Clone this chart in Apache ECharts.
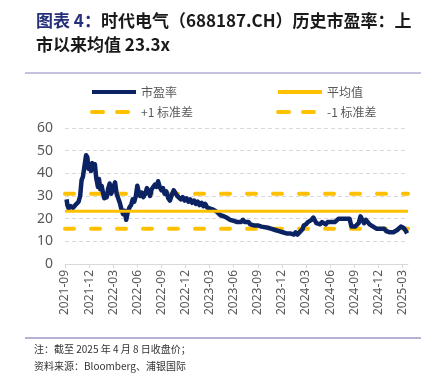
<!DOCTYPE html>
<html>
<head>
<meta charset="utf-8">
<script src="https://cdn.jsdelivr.net/npm/echarts@6/dist/echarts.min.js"></script>
<style>
  html, body { margin: 0; padding: 0; background: #fff; }
  #chart { width: 426px; height: 375px; }
</style>
</head>
<body>
<div id="chart"></div>
<script>
// PE history
var peDates = [
  '2021-09-07','2021-09-10','2021-09-15','2021-09-22','2021-10-01','2021-10-10','2021-10-15','2021-10-22','2021-10-28',
  '2021-11-03','2021-11-08','2021-11-15','2021-11-20','2021-11-25','2021-11-29','2021-12-03','2021-12-08','2021-12-13',
  '2021-12-18','2021-12-23','2021-12-28','2022-01-04','2022-01-08','2022-01-13','2022-01-18','2022-01-24','2022-01-28',
  '2022-02-07','2022-02-12','2022-02-18','2022-02-24','2022-03-02','2022-03-08','2022-03-14','2022-03-20','2022-03-26',
  '2022-04-01','2022-04-08','2022-04-14','2022-04-20','2022-04-26','2022-05-02','2022-05-08','2022-05-14','2022-05-20',
  '2022-05-26','2022-06-01','2022-06-06','2022-06-12','2022-06-18','2022-06-24','2022-07-01','2022-07-07','2022-07-13',
  '2022-07-19','2022-07-25','2022-08-01','2022-08-07','2022-08-13','2022-08-19','2022-08-25','2022-09-01','2022-09-07',
  '2022-09-13','2022-09-20','2022-09-27','2022-10-03','2022-10-10','2022-10-17','2022-10-24','2022-10-31','2022-11-07',
  '2022-11-14','2022-11-21','2022-11-28','2022-12-05','2022-12-12','2022-12-19','2022-12-26','2023-01-03','2023-01-10',
  '2023-01-17','2023-01-24','2023-02-01','2023-02-08','2023-02-15','2023-02-22','2023-03-01','2023-03-08','2023-03-15',
  '2023-03-22','2023-03-29','2023-04-05','2023-04-12','2023-04-19','2023-04-26','2023-05-04','2023-05-11','2023-05-18',
  '2023-05-25','2023-06-01','2023-06-08','2023-06-15','2023-06-22','2023-06-29','2023-07-06','2023-07-13','2023-07-20',
  '2023-07-27','2023-08-03','2023-08-10','2023-08-17','2023-08-24','2023-09-01','2023-09-08','2023-09-15','2023-09-22',
  '2023-10-09','2023-10-16','2023-10-23','2023-10-30','2023-11-06','2023-11-13','2023-11-20','2023-11-27','2023-12-04',
  '2023-12-11','2023-12-18','2023-12-25','2024-01-02','2024-01-09','2024-01-16','2024-01-23','2024-01-30','2024-02-06',
  '2024-02-19','2024-02-23','2024-03-01','2024-03-08','2024-03-15','2024-03-22','2024-03-29','2024-04-03','2024-04-10',
  '2024-04-17','2024-04-24','2024-05-01','2024-05-08','2024-05-15','2024-05-22','2024-05-29','2024-06-05','2024-06-12',
  '2024-06-19','2024-06-26','2024-07-03','2024-07-10','2024-07-17','2024-07-24','2024-07-31','2024-08-07','2024-08-14',
  '2024-08-21','2024-08-28','2024-09-04','2024-09-11','2024-09-18','2024-09-25','2024-09-30','2024-10-08','2024-10-15',
  '2024-10-22','2024-10-29','2024-11-05','2024-11-12','2024-11-19','2024-11-26','2024-12-03','2024-12-10','2024-12-17',
  '2024-12-24','2024-12-31','2025-01-07','2025-01-14','2025-01-21','2025-01-28','2025-02-05','2025-02-12','2025-02-19',
  '2025-02-26','2025-03-05','2025-03-12','2025-03-19'
];
var peValues = [
  28.5,26,24.5,25.5,24.8,26,25.5,27.5,30,
  37,38.5,44,48,47,42,44,41,44.5,
  42,44,38,34,37.5,33,34.5,31,29,
  29.5,33,35.5,31,34,36,31,30.5,27,
  24.5,22,23.5,19.5,23,25,26,28.5,27.5,
  30,34.5,32,30,31.5,29.5,31,33.5,32,
  30,33,32.5,35,34,36.5,34,32.5,33.5,
  31,32,29,28,30.5,32.5,33,30,30.5,
  28.5,29.5,28,29,27.5,28.5,27,28,26.5,
  27.5,26,27,25.5,26.5,25,24.5,25,24,
  24.5,23,22.5,21.5,22,21,20.5,21,19.5,
  20,19,19.5,18.5,19,18.5,19.5,18.5,18,
  18.5,17.5,18,17,17.5,17,17.5,16.5,17,
  16,16.5,15.5,16,15,15.5,14.5,15,14,
  14.5,13.5,14,13.5,14,13,14,13,13.5,
  15.5,17,17.5,18.5,18,19.5,20.5,19.5,18,
  18.5,17.5,18.5,18,17.5,18.5,18,18.5,19,
  18.5,19,20,19.5,20,19.5,20,19.5,20,
  16.5,16,16.5,17,18,21,20.5,18,19.5,
  18.5,17.5,18,16.5,16,15.5,15,15.5,15,
  15.5,14.5,14.5,14,14.5,14,14.5,15,15.5,
  16.5,16,15,13.5
];
var meanPE = 23.3;
var plusOneStd = 31.0;
var minusOneStd = 15.6;
var yTicks = [0, 10, 20, 30, 40, 50, 60];

// months counted from 2021-09
function toMonth(s) {
  var p = s.split('-').map(Number);
  return (p[0] - 2021) * 12 + (p[1] - 9) + (p[2] - 1) / 30.5;
}
function monthLabel(v) {
  var k = Math.round(v) + 8;
  var y = 2021 + Math.floor(k / 12);
  var m = (k % 12) + 1;
  return y + '-' + (m < 10 ? '0' + m : m);
}

var xMax = 42.7;
var peData = peDates.map(function (d, i) { return [toMonth(d), peValues[i]]; });
function flat(v) { return [[0, v], [xMax, v]]; }

var chart = echarts.init(document.getElementById('chart'));
var gold = '#FFC000';
var navy = '#0B2263';
var txt = '#595959';
function legendAt(left, top, name, dashed) {
  return {
    left: left, top: top, data: [name],
    padding: 0, itemWidth: 44, itemHeight: 12, itemGap: 4,
    itemStyle: { opacity: 0 },
    lineStyle: dashed ? { width: 4, type: [11, 14], cap: 'round' } : { width: 4 },
    textStyle: { color: txt, fontSize: 12, fontFamily: 'Noto Sans CJK SC' }
  };
}

var option = {
  animation: false,
  title: {
    left: 36, top: 9, padding: 0,
    text: '{a|图表 4：}{b|时代电气（688187.CH）历史市盈率：上}\n{b|市以来均值 23.3x}',
    textStyle: {
      rich: {
        a: { color: '#24307A', fontSize: 17, fontWeight: 'bold', fontFamily: 'Noto Sans CJK SC', lineHeight: 24 },
        b: { color: '#1a1a1a', fontSize: 17, fontWeight: 'bold', fontFamily: 'Noto Sans CJK SC', lineHeight: 24 }
      }
    }
  },
  legend: [
    legendAt(90, 86, '市盈率', false),
    legendAt(276, 86, '平均值', false),
    legendAt(90, 106, '+1 标准差', true),
    legendAt(276, 106, '-1 标准差', true)
  ],
  grid: { left: 65, right: 18, top: 128, bottom: 111 },
  xAxis: {
    type: 'value', min: 0, max: xMax, interval: 3,
    axisLine: { show: true, lineStyle: { color: '#d9d9d9' } },
    axisTick: { show: true, length: 4, lineStyle: { color: '#d9d9d9' } },
    splitLine: { show: false },
    axisLabel: {
      rotate: 90, color: txt, fontSize: 12, fontFamily: 'Noto Sans', margin: 6,
      showMaxLabel: false,
      formatter: monthLabel
    }
  },
  yAxis: {
    type: 'value', min: yTicks[0], max: yTicks[yTicks.length - 1], interval: 10,
    axisLine: { show: false }, axisTick: { show: false },
    axisLabel: { color: txt, fontSize: 14, fontFamily: 'Noto Sans', margin: 12 },
    splitLine: { lineStyle: { color: '#d9d9d9', type: [4, 3], width: 1 } }
  },
  series: [
    { name: '+1 标准差', type: 'line', data: flat(plusOneStd), symbol: 'none', z: 3,
      lineStyle: { color: gold, width: 4, type: [9, 17], cap: 'round' }, itemStyle: { color: gold } },
    { name: '-1 标准差', type: 'line', data: flat(minusOneStd), symbol: 'none', z: 3,
      lineStyle: { color: gold, width: 4, type: [9, 17], cap: 'round' }, itemStyle: { color: gold } },
    { name: '市盈率', type: 'line', data: peData, symbol: 'none', z: 4,
      lineStyle: { color: navy, width: 4.5, join: 'round' }, itemStyle: { color: navy } },
    { name: '平均值', type: 'line', data: flat(meanPE), symbol: 'none', z: 5,
      lineStyle: { color: gold, width: 3 }, itemStyle: { color: gold } }
  ],
  graphic: [
    { type: 'line', shape: { x1: 25, y1: 73, x2: 421, y2: 73 }, style: { stroke: '#8884c0', lineWidth: 1 } },
    { type: 'line', shape: { x1: 25, y1: 338, x2: 421, y2: 338 }, style: { stroke: '#6a64b0', lineWidth: 1 } },
    { type: 'text', left: 34, top: 344, style: { text: '注：截至 2025 年 4 月 8 日收盘价；', fill: '#333', font: '10px "Noto Sans CJK SC"' } },
    { type: 'text', left: 34, top: 361, style: { text: '资料来源：Bloomberg、浦银国际', fill: '#333', font: '10px "Noto Sans CJK SC"' } }
  ]
};
chart.setOption(option);
</script>
</body>
</html>
